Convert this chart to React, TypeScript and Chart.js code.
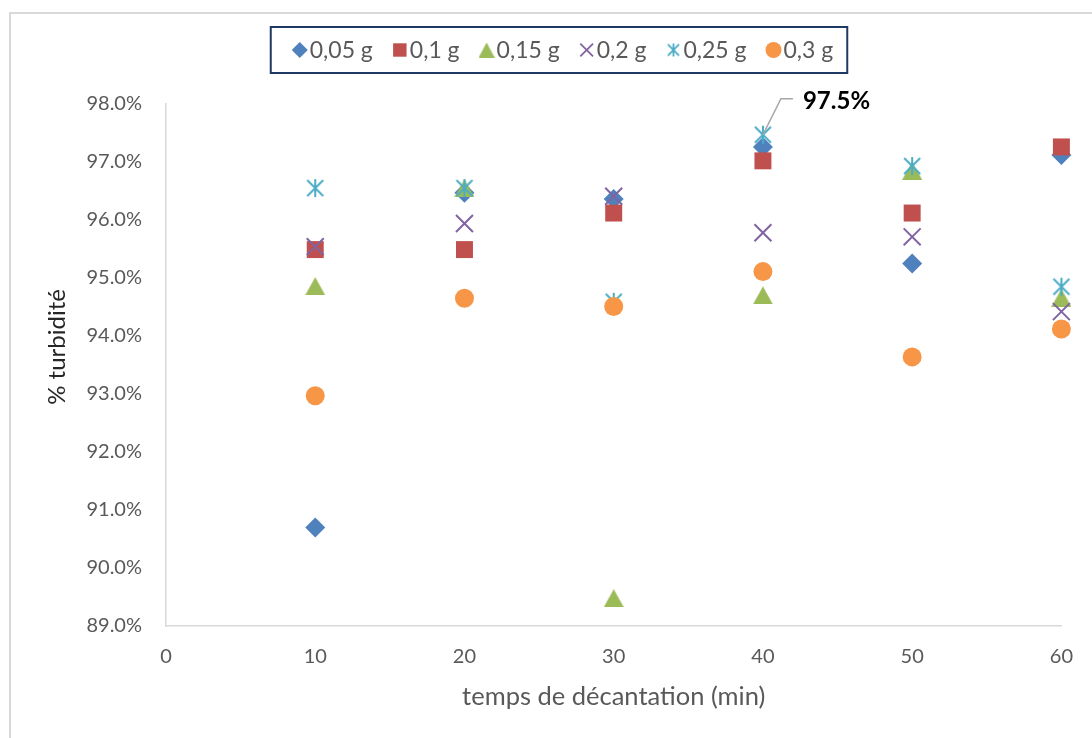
import React, { useEffect, useRef } from 'react';
import { Chart, registerables } from 'chart.js';
import { drawPoint } from 'chart.js/helpers';

Chart.register(...registerables);

// ---------- data ----------
const xMinutes = [10, 20, 30, 40, 50, 60];
const seriesLabels = ['0,05 g', '0,1 g', '0,15 g', '0,2 g', '0,25 g', '0,3 g'];
const s005 = [90.7, 96.47, 96.36, 97.26, 95.25, 97.12];
const s01 = [95.49, 95.49, 96.12, 97.02, 96.12, 97.26];
const s015 = [94.86, 96.55, 89.48, 94.7, 96.85, 94.66];
const s02 = [95.54, 95.94, 96.41, 95.78, 95.71, 94.42];
const s025 = [96.55, 96.55, 94.59, 97.47, 96.93, 94.85];
const s03 = [92.97, 94.65, 94.51, 95.11, 93.64, 94.12];
const seriesValues = [s005, s01, s015, s02, s025, s03];
const yMin = 89;
const yMax = 98;
const yStep = 1;
const xMin = 0;
const xMax = 60;
const xStep = 10;
const xTitle = 'temps de décantation (min)';
const yTitle = '% turbidité';
const labelledSeries = 4;
const labelledIndex = 3;

// ---------- styles ----------
const colors = ['#4F81BD', '#C0504D', '#9BBB59', '#8064A2', '#4BACC6', '#F79646'];
const FONT = 'Lato, "Open Sans", sans-serif';

function makeTriangle(w: number, color: string) {
  const h = Math.round(w * 0.92);
  const c = document.createElement('canvas');
  c.width = w;
  c.height = h;
  const ctx = c.getContext('2d')!;
  ctx.fillStyle = color;
  ctx.beginPath();
  ctx.moveTo(w / 2, 0);
  ctx.lineTo(w, h);
  ctx.lineTo(0, h);
  ctx.closePath();
  ctx.fill();
  return c;
}

function makeAsterisk(s: number, color: string, lw: number) {
  const c = document.createElement('canvas');
  c.width = s;
  c.height = s;
  const ctx = c.getContext('2d')!;
  ctx.strokeStyle = color;
  ctx.lineWidth = lw;
  const m = lw / 2;
  ctx.beginPath();
  ctx.moveTo(s / 2, m);
  ctx.lineTo(s / 2, s - m);
  ctx.moveTo(m + 1, m + 1);
  ctx.lineTo(s - m - 1, s - m - 1);
  ctx.moveTo(s - m - 1, m + 1);
  ctx.lineTo(m + 1, s - m - 1);
  ctx.stroke();
  return c;
}

export default function App() {
  const ref = useRef<HTMLCanvasElement | null>(null);

  useEffect(() => {
    if (!ref.current) return;

    const tri = makeTriangle(20, colors[2]);
    const star = makeAsterisk(20, colors[4], 2);
    const triLegend = makeTriangle(16, colors[2]);
    const starLegend = makeAsterisk(15, colors[4], 1.8);

    const pointStyles: any[] = ['rectRot', 'rect', tri, 'crossRot', star, 'circle'];
    const radii = [10, 12, 10, 12, 9, 9.5];
    const legendStyles: any[] = ['rectRot', 'rect', triLegend, 'crossRot', starLegend, 'circle'];
    const legendRadii = [8, 9.5, 7, 9, 7, 8];

    const datasets = seriesValues.map((vals, i) => ({
      label: seriesLabels[i],
      data: xMinutes.map((x, j) => ({ x, y: vals[j] })),
      pointStyle: pointStyles[i],
      pointRadius: radii[i],
      pointHoverRadius: radii[i],
      backgroundColor: colors[i],
      borderColor: colors[i],
      pointBorderWidth: i === 3 ? 2 : 0,
      showLine: false,
      clip: false as any,
      order: seriesValues.length - i,
    }));

    const decorPlugin = {
      id: 'decor',
      beforeDraw(chart: any) {
        const { ctx, width, height } = chart;
        ctx.save();
        ctx.fillStyle = '#ffffff';
        ctx.fillRect(0, 0, width, height);
        ctx.strokeStyle = '#D9D9D9';
        ctx.lineWidth = 2;
        ctx.strokeRect(10, 13, width + 20, height + 20);
        ctx.restore();
      },
      afterDraw(chart: any) {
        const { ctx, chartArea } = chart;
        ctx.save();
        // axis titles
        ctx.fillStyle = '#595959';
        ctx.font = `25.5px ${FONT}`;
        ctx.textAlign = 'center';
        ctx.textBaseline = 'middle';
        ctx.fillText(xTitle, (chartArea.left + chartArea.right) / 2, 697);
        ctx.save();
        ctx.translate(57, 347);
        ctx.rotate(-Math.PI / 2);
        ctx.fillStyle = '#262626';
        ctx.font = `24px ${FONT}`;
        ctx.fillText(yTitle, 0, 0);
        ctx.restore();

        // data label with leader line
        const pt = chart.getDatasetMeta(labelledSeries).data[labelledIndex];
        const val = seriesValues[labelledSeries][labelledIndex];
        ctx.strokeStyle = '#A6A6A6';
        ctx.lineWidth = 1.5;
        ctx.beginPath();
        ctx.moveTo(pt.x, pt.y);
        ctx.lineTo(pt.x + 18, pt.y - 36);
        ctx.lineTo(pt.x + 30, pt.y - 36);
        ctx.stroke();
        ctx.fillStyle = '#000000';
        ctx.font = `bold 24px ${FONT}`;
        ctx.textAlign = 'left';
        ctx.fillText(val.toFixed(1) + '%', pt.x + 40, pt.y - 33);

        // legend
        ctx.font = `23px ${FONT}`;
        const markerW = 17;
        const gap = 20;
        const widths = seriesLabels.map((l) => ctx.measureText(l).width);
        const padL = 22;
        const padR = 14;
        const total = padL + padR + widths.reduce((a, w) => a + markerW + w, 0) + gap * (seriesLabels.length - 1);
        const boxLeft = 559 - total / 2;
        const boxTop = 27;
        const boxH = 46;
        const cy = boxTop + boxH / 2;
        ctx.strokeStyle = '#1F3864';
        ctx.lineWidth = 2;
        ctx.strokeRect(boxLeft, boxTop, total, boxH);
        let cur = boxLeft + padL;
        seriesLabels.forEach((l, i) => {
          const opts: any = {
            pointStyle: legendStyles[i],
            radius: legendRadii[i],
            rotation: 0,
            borderWidth: i === 3 ? 1.8 : 0,
          };
          ctx.fillStyle = colors[i];
          ctx.strokeStyle = colors[i];
          ctx.lineWidth = opts.borderWidth;
          drawPoint(ctx, opts, cur + 7, cy);
          ctx.fillStyle = '#595959';
          ctx.textBaseline = 'middle';
          ctx.fillText(l, cur + markerW, cy + 1);
          cur += markerW + widths[i] + gap;
        });
        ctx.restore();
      },
    };

    const chart = new Chart(ref.current, {
      type: 'scatter',
      data: { datasets: datasets as any },
      options: {
        animation: false,
        responsive: false,
        maintainAspectRatio: false,
        layout: { padding: { top: 104, right: 29, bottom: 72, left: 0 } },
        plugins: { legend: { display: false }, tooltip: { enabled: false } },
        scales: {
          x: {
            type: 'linear',
            min: xMin,
            max: xMax,
            ticks: { stepSize: xStep, color: '#595959', font: { size: 20, family: FONT }, padding: 19 },
            grid: { display: false, drawTicks: false },
            border: { display: true, color: '#D9D9D9', width: 1.5 },
            afterFit: (s: any) => { s.height = 40; },
          },
          y: {
            type: 'linear',
            min: yMin,
            max: yMax,
            ticks: {
              stepSize: yStep,
              color: '#595959',
              font: { size: 20, family: FONT },
              padding: 24,
              callback: (v: any) => Number(v).toFixed(1) + '%',
            },
            grid: { display: false, drawTicks: false },
            border: { display: true, color: '#D9D9D9', width: 1.5 },
            afterFit: (s: any) => { s.width = 166; },
          },
        },
      },
      plugins: [decorPlugin],
    });
    return () => chart.destroy();
  }, []);

  return (
    <div style={{ position: 'absolute', left: 0, top: 0, width: 1092, height: 738 }}>
      <canvas ref={ref} width={1092} height={738} style={{ width: 1092, height: 738, display: 'block' }} />
    </div>
  );
}
